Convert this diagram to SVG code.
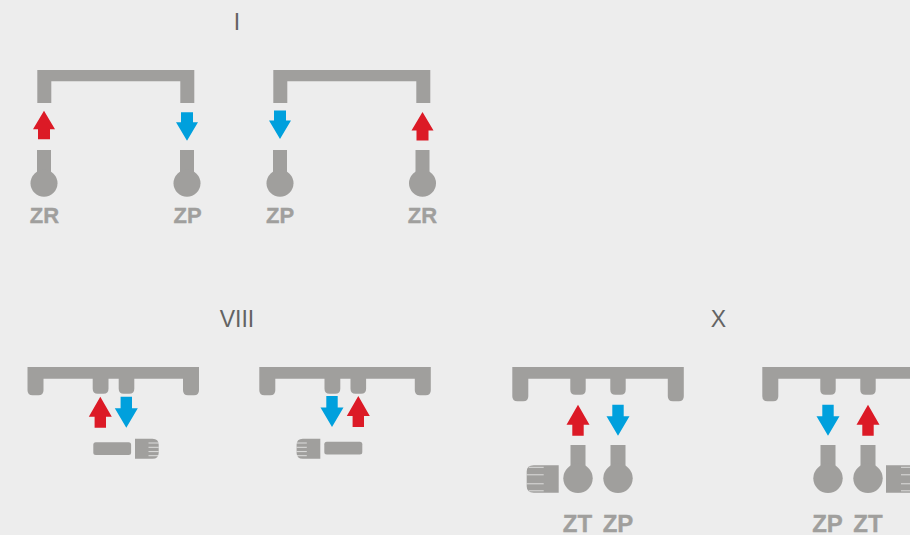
<svg xmlns="http://www.w3.org/2000/svg" width="910" height="535" viewBox="0 0 910 535">
<style>
.g{fill:#a09f9d}
.r{fill:#dc1a26}
.b{fill:#00a0dd}
.t{font-family:"Liberation Sans",Arial,sans-serif;font-size:23px;fill:#636363;text-anchor:middle}
.l{font-family:"Liberation Sans",Arial,sans-serif;font-weight:700;fill:#a09f9d;stroke:#a09f9d;stroke-width:.35;text-anchor:middle}
.s{font-size:22px}
.m{font-size:24px}
.h{stroke:#ededed;stroke-width:.8;fill:none}
</style>
<defs>
<path id="bracket1" class="g" d="M37.3 70H194.3V103H180.3V81.3H51.3V103H37.3Z"/>
<path id="up1" class="r" d="M0 0L11 18.500H6V28.500H-6V18.500H-11Z"/>
<path id="down1" class="b" d="M-6 0H6V10H11L0 28.500L-11 10H-6Z"/>
<path id="up2" class="r" d="M0 0L11.500 20H5.700V31H-5.700V20H-11.500Z"/>
<path id="down2" class="b" d="M-5.700 0H5.700V11.500H11.500L0 31L-11.500 11.500H-5.700Z"/>
<g id="valve1"><rect class="g" x="-7" y="0" width="14" height="25"/><circle class="g" cx="0" cy="33.300" r="13.500"/></g>
<g id="valve2"><rect class="g" x="-7.500" y="0" width="15" height="25"/><circle class="g" cx="0" cy="33.300" r="14.700"/></g>
<path id="bracket8" class="g" d="M0 0H171.500V23.300Q171.500 28.300 166.500 28.300H160.500Q155.500 28.300 155.500 23.300V11.700H106.800V21.700Q106.800 26.700 101.800 26.700H96.200Q91.200 26.700 91.200 21.700V11.700H81V21.700Q81 26.700 76 26.700H70.200Q65.200 26.700 65.200 21.700V11.700H16V23.300Q16 28.300 11 28.300H5Q0 28.300 0 23.300Z"/>
<path id="bracket10" class="g" d="M0 0H171.500V29.300Q171.500 34.300 166.500 34.300H160.500Q155.500 34.300 155.500 29.300V11.700H113.400V22.700Q113.400 27.700 108.400 27.700H103Q98 27.700 98 22.700V11.700H73.400V22.700Q73.400 27.700 68.400 27.700H63Q58 27.700 58 22.700V11.700H16V29.300Q16 34.300 11 34.300H5Q0 34.300 0 29.300Z"/>
<g id="handle8"><path class="g" d="M0 0H17.500Q23.700 0 23.700 6V14Q23.700 20 17.500 20H0Z"/><path class="h" d="M13.500 4.300H23.700M13.500 8.600H23.700M13.500 12.900H23.700M13.500 17H23.700"/></g>
<g id="handle10"><path class="g" d="M0 0H32V27.400H7Q0 27.400 0 21V6Q0 0 7 0Z"/><path class="h" d="M2 2H17M0 9.500H17M0 18.500H17M2 25.500H17"/></g>
</defs>
<rect width="910" height="535" fill="#ededed"/>
<g id="titles">
<text class="t" x="237" y="30">I</text>
<text class="t" x="237" y="327">VIII</text>
<text class="t" x="718.500" y="327">X</text>
</g>
<g id="connectors">
<use href="#up1" x="44" y="110.700"/>
<use href="#down1" x="187" y="112.300"/>
<use href="#down1" x="280" y="110.500"/>
<use href="#up1" x="422.500" y="112"/>
<use href="#up2" x="100.300" y="396.700"/>
<use href="#down2" x="126.300" y="396.700"/>
<use href="#down2" x="332" y="396"/>
<use href="#up2" x="358.300" y="396"/>
<use href="#up2" x="578" y="404.700"/>
<use href="#down2" x="618" y="404.700"/>
<use href="#down2" x="828" y="404.700"/>
<use href="#up2" x="868" y="404.700"/>
</g>
<g id="bracket-i-a"><use href="#bracket1"/></g>
<g id="bracket-i-b"><use href="#bracket1" x="236"/></g>
<g id="zr-1"><use href="#valve1" x="44" y="150"/><text class="l s" x="44.500" y="223">ZR</text></g>
<g id="zp-1"><use href="#valve1" x="187" y="150"/><text class="l s" x="187.500" y="223">ZP</text></g>
<g id="zp-2"><use href="#valve1" x="280" y="150"/><text class="l s" x="280" y="223">ZP</text></g>
<g id="zr-2"><use href="#valve1" x="422.500" y="150"/><text class="l s" x="422.500" y="223">ZR</text></g>
<g id="bracket-viii-a"><use href="#bracket8" x="27.500" y="367"/></g>
<g id="bracket-viii-b"><use href="#bracket8" x="259.300" y="367"/></g>
<g id="fitting-viii-a"><rect class="g" x="93.300" y="442.300" width="37.800" height="12.700" rx="2.500"/><use href="#handle8" x="135" y="438.700"/></g>
<g id="fitting-viii-b"><rect class="g" x="324.300" y="441.700" width="38" height="12.700" rx="2.500"/><use href="#handle8" transform="translate(320.300 438.700) scale(-1 1)"/></g>
<g id="bracket-x-a"><use href="#bracket10" x="512.300" y="367"/></g>
<g id="bracket-x-b"><use href="#bracket10" x="762.300" y="367"/></g>
<g id="zt-1"><use href="#valve2" x="578" y="445"/><use href="#handle10" x="526.700" y="465.300"/><text class="l m" x="577.500" y="531.700">ZT</text></g>
<g id="zp-3"><use href="#valve2" x="618" y="445"/><text class="l m" x="618" y="531.700">ZP</text></g>
<g id="zp-4"><use href="#valve2" x="828" y="445"/><text class="l m" x="827.500" y="531.700">ZP</text></g>
<g id="zt-2"><use href="#valve2" x="868" y="445"/><use href="#handle10" transform="translate(918 465.300) scale(-1 1)"/><text class="l m" x="868" y="531.700">ZT</text></g>
</svg>
